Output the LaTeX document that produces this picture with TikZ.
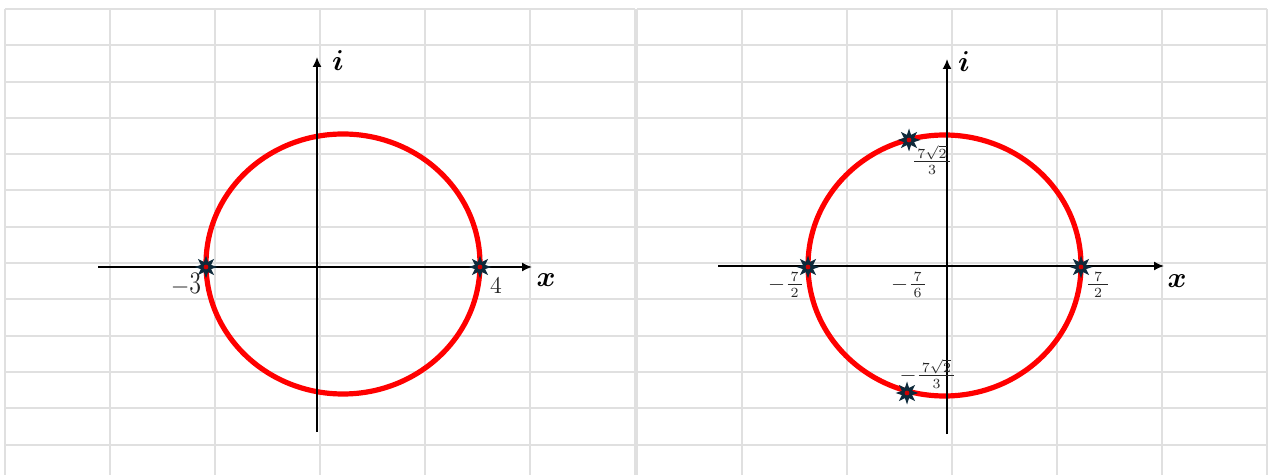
\documentclass[tikz,border=0pt]{standalone}
\usepackage{amsmath}
\usetikzlibrary{shapes.geometric,arrows.meta}
\definecolor{gridc}{HTML}{E0E0E0}
\definecolor{starc}{HTML}{0E2A3B}
\definecolor{curvec}{HTML}{FF0000}
\definecolor{dotc}{HTML}{D00000}
\newcommand{\pd}[1]{\hspace{1.5pt}#1\hspace{1.5pt}}
\begin{document}
\begin{tikzpicture}[x=0.5pt,y=-0.5pt,
  gridline/.style={draw=gridc,line width=1pt},
  axis/.style={draw=black,line width=0.8pt,-{Latex[length=5pt,width=4.5pt]}},
  curve/.style={draw=curvec,line width=2.6pt},
  marker/.style={star,star points=8,star point ratio=2.1,minimum size=11.5pt,inner sep=0pt,fill=starc,
    path picture={\fill[dotc] (path picture bounding box.center) circle (1.2pt);}},
  tick/.style={inner sep=0pt,text=black!85,font=\fontsize{10.5}{12}\selectfont},
  bigtick/.style={inner sep=0pt,text=black!85,font=\fontsize{12}{14}\selectfont},
  axlabel/.style={inner sep=0pt,font=\fontsize{15.5}{18}\selectfont}]
\useasboundingbox (0,0) rectangle (1268,475);
% grid, left panel
\foreach \i in {0,...,6} \draw[gridline] ({5+105*\i},9) -- ({5+105*\i},475);
\foreach \j in {0,...,12} \draw[gridline] (5,{9+36.3*\j}) -- (635,{9+36.3*\j});
% grid, right panel
\foreach \i in {0,...,6} \draw[gridline] ({637+105*\i},9) -- ({637+105*\i},475);
\foreach \j in {0,...,12} \draw[gridline] (637,{9+36.3*\j}) -- (1267,{9+36.3*\j});

% ---------- left panel ----------
\draw[curve] (343,264) ellipse [x radius=137, y radius=130];
\coordinate (LxA) at (98,267);
\coordinate (LxB) at (532,267);
\coordinate (LyA) at (317,432);
\coordinate (LyB) at (317,57);
\draw[axis] (LxA) -- (LxB);
\draw[axis] (LyA) -- (LyB);
\node[marker] (Lm3) at (206,267) {};
\node[marker] (Lp4) at (480,267) {};
\node[bigtick] (Ll3) at (186,284) {$-\scalebox{1}[1.3]{$3$}$};
\node[bigtick] (Ll4) at (496,286) {$4$};
\node[axlabel] (Lx) at (546,280) {$\boldsymbol{x}$};
\node[axlabel] (Li) at (338,61) {$\boldsymbol{i}$};

% ---------- right panel ----------
\draw[curve] (944.5,265.5) ellipse [x radius=136.5, y radius=130.5];
\coordinate (RxA) at (718,266);
\coordinate (RxB) at (1164,266);
\coordinate (RyA) at (947,434);
\coordinate (RyB) at (947,59);
\draw[axis] (RxA) -- (RxB);
\draw[axis] (RyA) -- (RyB);
\node[marker] (Rm) at (808,267) {};
\node[marker] (Rp) at (1081,267) {};
\node[marker] (Rt) at (909,140) {};
\node[marker] (Rb) at (907,393) {};
\node[tick] (Rlm) at (786,285) {$-\frac{\pd{7}}{\pd{2}}$};
\node[tick] (Rlp) at (1098,285) {$\frac{\hspace{3pt}7\hspace{3pt}}{2}$};
\node[tick] (Rlc) at (909,285) {$-\frac{\pd{7}}{\pd{6}}$};
\node[tick] (Rlt) at (932,160) {$\frac{\pd{7\sqrt{2}}}{3}$};
\node[tick] (Rlb) at (928,374) {$-\frac{\pd{7\sqrt{2}}}{3}$};
\node[axlabel] (Rx) at (1177,281) {$\boldsymbol{x}$};
\node[axlabel] (Ri) at (964,62) {$\boldsymbol{i}$};
\end{tikzpicture}
\end{document}
